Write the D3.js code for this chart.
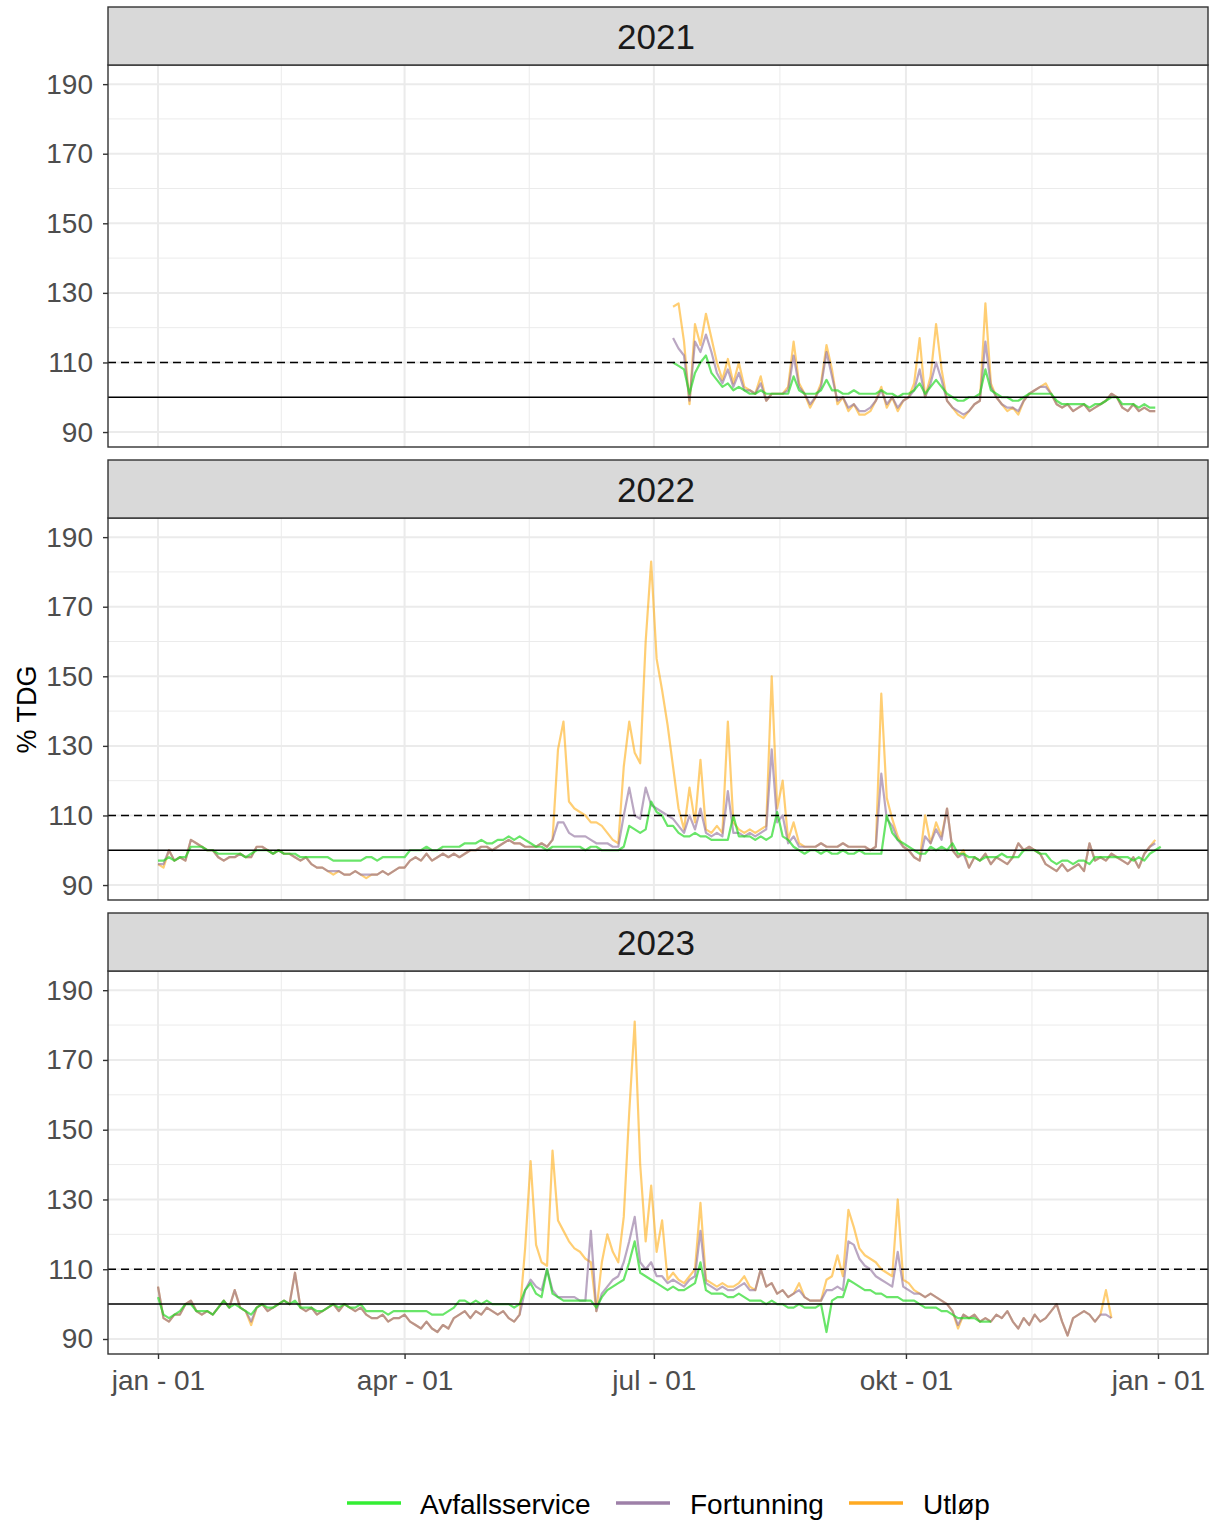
<!DOCTYPE html>
<html><head><meta charset="utf-8">
<script src="https://cdn.jsdelivr.net/npm/d3@7"></script>
<style>
body{margin:0;background:#fff}
svg{display:block}
text{font-family:"Liberation Sans",Arial,Helvetica,sans-serif}
</style>
</head><body>
<svg id="chart" width="1210" height="1523"></svg>
<script>
// ---------------- data ----------------
const years = ["2021", "2022", "2023"];
const seriesNames = ["Avfallsservice", "Fortunning", "Utløp"];
const monthLabels = ["jan","feb","mar","apr","mai","jun","jul","aug","sep","okt","nov","des"];
const yTicks = [90, 110, 130, 150, 170, 190];
const yMinor = [100, 120, 140, 160, 180];
const stepDays = 2;             // one reading every second day
const startDay2021 = 188;       // day-of-year of first reading
const startDay2022 = 0;
const startDay2023 = 0;

const avf2021 = [110,109,108,101,107,110,112,107,105,103,104,102,103,102,101,101,102,101,101,101,101,101,106,102,101,101,101,102,105,102,102,101,101,102,101,101,101,101,102,101,101,100,101,101,102,104,101,103,105,103,101,100,99,99,100,100,101,108,102,101,100,100,99,99,100,101,101,101,101,101,99,98,98,98,98,98,97,98,98,99,100,100,98,98,98,97,98,97,97];
const fort2021 = [117,114,112,99,116,113,118,113,107,104,108,103,107,102,102,101,104,99,101,101,101,102,112,103,101,98,100,103,113,106,99,100,97,98,96,96,97,99,102,98,100,97,99,100,102,108,100,104,110,105,99,97,96,95,96,98,99,116,103,100,98,97,97,96,99,101,102,103,103,101,98,97,98,96,97,98,96,97,98,99,101,100,97,96,98,96,97,96,96];
const utl2021 = [126,127,116,98,121,115,124,117,110,105,111,104,110,103,102,101,106,99,101,101,101,103,116,104,101,97,100,104,115,108,98,100,96,98,95,95,96,99,103,97,100,96,99,100,104,117,100,106,121,108,99,97,95,94,96,98,99,127,104,100,98,96,97,95,99,101,102,103,104,101,98,97,98,96,97,98,96,97,98,99,101,100,97,96,98,96,97,96,96];

const avf2022 = [97,97,98,97,98,98,101,101,101,100,100,99,99,99,99,99,98,99,100,100,100,99,100,99,99,99,98,98,98,98,98,98,97,97,97,97,97,97,98,98,97,98,98,98,98,98,100,100,100,101,100,100,101,101,101,101,102,102,102,103,102,102,103,103,104,103,104,103,102,101,101,100,101,101,101,101,101,101,100,101,101,100,100,100,100,101,107,106,105,106,114,111,110,107,107,105,104,104,105,104,104,103,103,103,103,110,104,104,104,103,104,103,104,111,104,103,101,100,99,100,100,99,100,99,99,100,99,99,100,99,99,99,99,110,105,103,102,101,100,99,99,101,100,101,100,102,99,99,98,98,97,98,98,98,99,98,98,98,100,100,100,99,99,97,96,97,97,96,97,97,96,98,98,98,98,98,98,98,97,98,97,99,100,101];
const fort2022 = [96,96,100,97,98,97,103,102,101,100,100,98,97,98,98,99,98,98,101,101,100,99,100,99,99,98,97,98,96,95,95,94,94,94,93,93,94,93,93,93,93,94,93,94,95,95,97,98,97,99,97,98,99,98,99,98,99,100,100,101,101,100,101,102,103,102,102,101,101,101,102,101,103,108,108,105,104,104,104,103,102,102,102,101,101,110,118,110,109,118,113,112,111,110,109,107,105,110,106,112,105,104,105,104,117,105,105,104,105,104,105,106,129,108,110,102,104,101,101,101,101,102,101,101,101,102,101,101,101,101,100,101,122,109,107,103,101,100,98,97,104,102,106,103,112,100,98,99,95,98,97,99,96,98,97,96,98,102,100,101,100,99,96,95,94,96,94,95,96,94,102,97,98,97,99,98,97,96,98,95,99,101,102];
const utl2022 = [96,95,100,97,98,97,103,102,101,100,100,98,97,98,98,99,98,98,101,101,100,99,100,99,99,98,97,98,96,95,95,94,93,94,93,93,94,93,92,93,93,94,93,94,95,95,97,98,97,99,97,98,99,98,99,98,99,100,100,101,101,100,101,102,103,102,102,101,101,101,102,101,103,129,137,114,112,111,110,108,108,107,105,103,102,124,137,128,125,160,183,155,146,136,124,112,106,118,108,126,106,105,107,105,137,108,106,105,106,105,106,107,150,112,120,103,108,102,101,101,101,102,101,101,101,102,101,101,101,101,100,101,145,115,109,104,101,100,98,97,110,102,108,104,112,100,98,100,95,98,97,99,96,98,97,96,98,102,100,101,100,99,96,95,94,96,94,95,96,94,102,97,98,97,99,98,97,96,98,95,99,101,103];

const avf2023 = [102,97,96,97,98,100,100,98,98,98,97,99,101,99,100,99,98,97,99,100,99,99,100,101,100,101,99,99,99,98,98,99,100,99,100,99,99,100,98,98,98,98,97,98,98,98,98,98,98,98,97,97,97,98,99,101,101,100,101,100,101,100,100,100,100,99,100,104,106,103,102,110,103,102,101,101,101,101,101,101,99,102,104,105,106,107,112,118,109,108,107,106,105,104,105,104,104,105,106,112,104,103,103,103,102,102,103,102,101,101,101,100,101,100,100,99,99,100,99,99,99,100,92,101,102,102,107,106,105,104,104,103,103,102,102,102,101,101,101,100,99,99,99,98,98,97,96,96,96,96,95,95,95];
const fort2023 = [105,96,95,97,97,100,101,98,97,98,97,99,101,99,104,99,98,95,99,100,98,99,100,101,100,109,99,98,99,97,98,99,100,98,100,99,98,99,97,96,96,97,95,96,96,97,95,94,93,95,93,92,94,93,96,97,98,96,98,97,99,98,97,98,96,95,97,104,107,105,104,110,104,102,102,102,102,101,101,121,98,103,105,107,108,112,118,125,112,110,112,108,108,106,107,106,105,107,108,121,106,105,104,105,104,104,105,106,104,104,110,105,106,103,104,102,103,104,102,101,101,101,104,104,105,104,118,117,113,111,110,108,107,106,105,115,105,104,103,103,102,103,102,101,100,98,94,97,96,97,95,96,95,97,96,98,95,93,96,94,97,95,96,98,100,95,91,96,97,98,97,95,97,97,96];
const utl2023 = [105,96,95,97,97,100,101,98,97,98,97,99,101,99,104,99,98,94,99,100,98,99,100,101,100,109,99,98,99,97,98,99,100,98,100,99,98,99,97,96,96,97,95,96,96,97,95,94,93,95,93,92,94,93,96,97,98,96,98,97,99,98,97,98,96,95,97,116,141,117,112,111,144,124,121,118,116,115,113,112,98,112,120,115,112,125,155,181,140,118,134,115,124,107,109,107,106,108,110,129,107,106,105,106,105,105,106,108,105,104,110,105,106,103,104,102,103,106,102,101,101,101,107,108,114,108,127,122,116,114,113,112,110,109,108,130,107,106,104,103,102,103,102,101,100,98,93,97,96,97,95,96,95,97,96,98,95,93,96,94,97,95,96,98,100,95,91,96,97,98,97,95,97,104,96];

const panelData = [
  {year: years[0], start: startDay2021, series: [avf2021, fort2021, utl2021]},
  {year: years[1], start: startDay2022, series: [avf2022, fort2022, utl2022]},
  {year: years[2], start: startDay2023, series: [avf2023, fort2023, utl2023]}
];

// ---------------- styles / layout ----------------
const lineColors = ["#22D822", "#8C6C9A", "#FFA500"];
const lineOpacity = [0.68, 0.6, 0.55];
const legendColors = ["#33EE33", "#9E80A8", "#FFAA22"];
const L = 108, R = 1208;
const panels = [
  {stripTop: 7,   top: 65,  bottom: 447},
  {stripTop: 460, top: 518, bottom: 900},
  {stripTop: 913, top: 971, bottom: 1354}
];
const DAY = 86400000;
const base = Date.UTC(2021, 0, 1);
const toDate = d => new Date(base + d * DAY);

const svg = d3.select("#chart");
const x = d3.scaleUtc()
  .domain([new Date(base - 18.25 * DAY), new Date(Date.UTC(2022, 0, 1) + 18.25 * DAY)])
  .range([L, R]);
const xMajor = d3.utcMonth.every(3).range(new Date(base), new Date(Date.UTC(2022, 0, 2)));
const xMinor = d3.pairs(xMajor).map(([a, b]) => new Date((+a + +b) / 2));
const fmt = d => `${monthLabels[d.getUTCMonth()]} - ${d3.utcFormat("%d")(d)}`;

const defs = svg.append("defs");

panels.forEach((p, i) => {
  const pd = panelData[i];
  const y = d3.scaleLinear().domain([85.7, 195.5]).range([p.bottom, p.top]);
  const g = svg.append("g");

  g.append("rect").attr("x", L).attr("y", p.top).attr("width", R - L).attr("height", p.bottom - p.top).attr("fill", "#fff");

  g.selectAll(".ymin").data(yMinor).join("line")
    .attr("x1", L).attr("x2", R).attr("y1", d => y(d)).attr("y2", d => y(d))
    .attr("stroke", "#EBEBEB").attr("stroke-width", 1);
  g.selectAll(".xmin").data(xMinor).join("line")
    .attr("x1", d => x(d)).attr("x2", d => x(d)).attr("y1", p.top).attr("y2", p.bottom)
    .attr("stroke", "#EBEBEB").attr("stroke-width", 1);
  g.selectAll(".ymaj").data(yTicks).join("line")
    .attr("x1", L).attr("x2", R).attr("y1", d => y(d)).attr("y2", d => y(d))
    .attr("stroke", "#EBEBEB").attr("stroke-width", 2);
  g.selectAll(".xmaj").data(xMajor).join("line")
    .attr("x1", d => x(d)).attr("x2", d => x(d)).attr("y1", p.top).attr("y2", p.bottom)
    .attr("stroke", "#EBEBEB").attr("stroke-width", 2);

  defs.append("clipPath").attr("id", "clip" + i).append("rect")
    .attr("x", L).attr("y", p.top).attr("width", R - L).attr("height", p.bottom - p.top);

  const lines = g.append("g").attr("clip-path", `url(#clip${i})`);
  const lineGen = d3.line().x(d => x(d[0])).y(d => y(d[1]));
  [2, 1, 0].forEach(s => {
    const vals = pd.series[s];
    const pts = vals.map((v, k) => [toDate(pd.start + k * stepDays), v]);
    lines.append("path").attr("d", lineGen(pts))
      .attr("fill", "none").attr("stroke", lineColors[s])
      .attr("stroke-opacity", lineOpacity[s]).attr("stroke-width", 2.2)
      .attr("stroke-linejoin", "round");
  });

  g.append("line").attr("x1", L).attr("x2", R).attr("y1", y(100)).attr("y2", y(100))
    .attr("stroke", "#000").attr("stroke-width", 1.5);
  g.append("line").attr("x1", L).attr("x2", R).attr("y1", y(110)).attr("y2", y(110))
    .attr("stroke", "#000").attr("stroke-width", 1.5).attr("stroke-dasharray", "8,5");

  g.append("rect").attr("x", L).attr("y", p.top).attr("width", R - L).attr("height", p.bottom - p.top)
    .attr("fill", "none").attr("stroke", "#333").attr("stroke-width", 1.4);

  g.append("rect").attr("x", L).attr("y", p.stripTop).attr("width", R - L).attr("height", p.top - p.stripTop)
    .attr("fill", "#D9D9D9").attr("stroke", "#333").attr("stroke-width", 1.4);
  g.append("text").attr("x", (L + R) / 2 - 2).attr("y", (p.stripTop + p.top) / 2)
    .attr("text-anchor", "middle").attr("dy", "0.36em")
    .attr("font-size", 35).attr("fill", "#1A1A1A").text(pd.year);

  const ya = g.append("g").attr("transform", `translate(${L},0)`)
    .call(d3.axisLeft(y).tickValues(yTicks).tickSize(5).tickPadding(10));
  ya.select(".domain").remove();
  ya.selectAll(".tick line").attr("stroke", "#333").attr("stroke-width", 1.4);
  ya.selectAll(".tick text").attr("font-size", 28).attr("fill", "#4D4D4D")
    .attr("font-family", '"Liberation Sans",Arial,sans-serif');

  if (i === panels.length - 1) {
    const xa = g.append("g").attr("transform", `translate(0,${p.bottom})`)
      .call(d3.axisBottom(x).tickValues(xMajor).tickFormat(fmt).tickSize(5).tickPadding(11));
    xa.select(".domain").remove();
    xa.selectAll(".tick line").attr("stroke", "#333").attr("stroke-width", 1.4);
    xa.selectAll(".tick text").attr("font-size", 28).attr("fill", "#4D4D4D")
      .attr("font-family", '"Liberation Sans",Arial,sans-serif');
  }
});

svg.append("text").attr("transform", `translate(36,${(panels[0].top + panels[2].bottom) / 2}) rotate(-90)`)
  .attr("text-anchor", "middle").attr("font-size", 27).attr("fill", "#000").text("% TDG");

const legendPos = [{lx: 347, tx: 420}, {lx: 616, tx: 690}, {lx: 849, tx: 923}];
const lg = svg.append("g");
seriesNames.forEach((n, i) => {
  lg.append("line").attr("x1", legendPos[i].lx).attr("x2", legendPos[i].lx + 54)
    .attr("y1", 1503).attr("y2", 1503).attr("stroke", legendColors[i]).attr("stroke-width", 3.5);
  lg.append("text").attr("x", legendPos[i].tx).attr("y", 1514)
    .attr("font-size", 28).attr("fill", "#000").text(n);
});
</script>
</body></html>
